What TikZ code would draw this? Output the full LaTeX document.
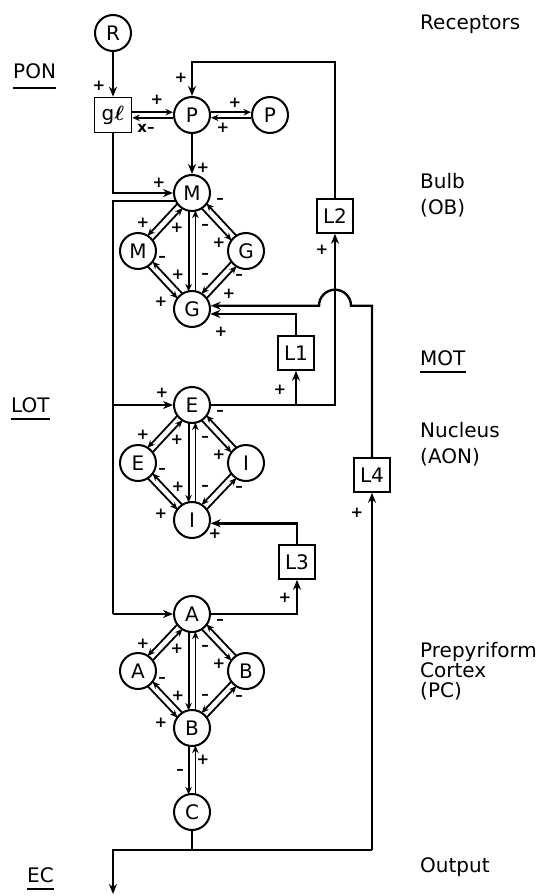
\documentclass[tikz,border=0pt]{standalone}
\usepackage{amsmath}
\usepackage{fontspec}
\setmainfont{DejaVu Sans}
\usetikzlibrary{calc,arrows.meta}
\newcommand\dlink[2]{\draw[dl,shorten <=17.6pt,shorten >=17.6pt] ($(#1)!3.4pt!-90:(#2)$) -- ($(#2)!3.4pt!90:(#1)$);}
\begin{document}
\begin{tikzpicture}[x=1pt,y=-1pt,
  every node/.style={inner sep=0pt},
  cell/.style={circle,draw,line width=2pt,minimum size=36pt,font=\fontsize{20}{20}\selectfont},
  box/.style={rectangle,draw,line width=1.6pt,minimum width=36pt,minimum height=34pt,font=\fontsize{20}{20}\selectfont},
  wire/.style={line width=2.4pt},
  arr/.style={wire,-{Stealth[length=10pt,width=8pt]}},
  dl/.style={line width=1.8pt,-{Stealth[length=7.5pt,width=6.5pt]}},
  sgn/.style={font=\fontsize{15}{15}\selectfont\bfseries},
  lbl/.style={anchor=base west,font=\fontsize{20}{24}\selectfont},
  ul/.style={line width=1.6pt}]
\useasboundingbox (0,0) rectangle (547,896);

% nodes
\node[cell] (R) at (113,33) {R};
\node[box,minimum width=37pt,minimum height=35pt] (gl) at (113,115) {g$\boldsymbol{\ell}$};
\node[cell] (P1) at (192,115) {P};
\node[cell] (P2) at (270,115) {P};
\node[cell] (Mt) at (192,193) {M};
\node[cell] (Ml) at (138,251) {M};
\node[cell] (Gr) at (246,251) {G};
\node[cell] (Gb) at (192,309) {G};
\node[cell] (Et) at (192,405) {E};
\node[cell] (El) at (138,463) {E};
\node[cell] (Ir) at (246,463) {I};
\node[cell] (Ib) at (192,520) {I};
\node[cell] (At) at (192,614) {A};
\node[cell] (Al) at (138,671) {A};
\node[cell] (Br) at (246,671) {B};
\node[cell] (Bb) at (192,728) {B};
\node[cell] (C) at (192,812) {C};
\node[box] (L2) at (335,216) {L2};
\node[box] (L1) at (296,353) {L1};
\node[box] (L4) at (372,475) {L4};
\node[box] (L3) at (297,562) {L3};

\coordinate (fbTop) at (335,62);
\coordinate (lotBot) at (113,614);
\coordinate (ECc) at (113,850);
\coordinate (L4c) at (372,850);
\coordinate (ECend) at (113,894);

% receptor / glomerulus / periglomerular
\draw[arr] (R) -- (gl);
\draw[dl] ([yshift=2.8pt]gl.east) -- ([yshift=2.8pt]P1.west);
\draw[dl] ([yshift=-2.8pt]P1.west) -- ([yshift=-2.8pt]gl.east);
\draw[dl] ([yshift=2.8pt]P1.east) -- ([yshift=2.8pt]P2.west);
\draw[dl] ([yshift=-2.8pt]P2.west) -- ([yshift=-2.8pt]P1.east);
\draw[arr] (L2.north) -- (fbTop) -| (P1.north);
\draw[arr] (P1) -- (Mt);
\draw[arr] (gl.south) |- (Mt.west);

% LOT
\draw[wire] (Mt.205) -| (lotBot);
\draw[arr] (lotBot) -- (At.west);
\draw[arr] (lotBot |- Et.west) -- (Et.west);

% MOT and feedback
\draw[arr] (Et.east) -| (L2.south);
\draw[arr] (L1.south |- Et.east) -- (L1.south);
\draw[arr] (L1.north) |- (Gb.-15);
\draw[arr] (L4.north) -- (L4.north |- Gb.10) -- ($(L2.south |- Gb.10)+(16,0)$) arc[start angle=0,end angle=180,radius=16pt] -- (Gb.10);
\draw[arr] (At.east) -| (L3.south);
\draw[arr] (L3.north) |- (Ib.-10);

% output
\draw[wire] (C.south) -- (C.south |- ECc);
\draw[arr] (L4c) -- (ECc) -- (ECend);
\draw[arr] (L4c) -- (L4.south);

% diamonds
\foreach \t/\l/\r/\b in {Mt/Ml/Gr/Gb, Et/El/Ir/Ib, At/Al/Br/Bb}{
  \dlink{\t}{\l}\dlink{\l}{\t}
  \dlink{\t}{\b}\dlink{\b}{\t}
  \dlink{\t}{\r}\dlink{\r}{\t}
  \dlink{\l}{\b}\dlink{\b}{\l}
  \dlink{\r}{\b}\dlink{\b}{\r}
  \node[sgn] at ($(\t)+(-49,30)$) {+};
  \node[sgn] at ($(\t)+(-15,35)$) {+};
  \node[sgn] at ($(\t)+(13,34)$) {–};
  \node[sgn] at ($(\t)+(28,8)$) {–};
  \node[sgn] at ($(\t)+(27,50)$) {+};
  \node[sgn] at ($(\t)+(-30,66)$) {–};
  \node[sgn] at ($(\t)+(-14,82)$) {+};
  \node[sgn] at ($(\t)+(13,83)$) {–};
  \node[sgn] at ($(\t)+(47,84)$) {–};
  \node[sgn] at ($(\t)+(-31,109)$) {+};
}
\dlink{Bb}{C}\dlink{C}{Bb}

% signs
\node[sgn] at (99,86) {+};
\node[sgn] at (157,100) {+};
\node[sgn] at (146,128) {x–};
\node[sgn] at (235,103) {+};
\node[sgn] at (223,128) {+};
\node[sgn] at (181,78) {+};
\node[sgn] at (203,168) {+};
\node[sgn] at (159,183) {+};
\node[sgn] at (322,250) {+};
\node[sgn] at (229,294) {+};
\node[sgn] at (221,332) {+};
\node[sgn] at (280,390) {+};
\node[sgn] at (162,393) {+};
\node[sgn] at (215,534) {+};
\node[sgn] at (285,598) {+};
\node[sgn] at (357,513) {+};
\node[sgn] at (203,760) {+};
\node[sgn] at (180,772) {–};

% labels right
\node[lbl] at (420,30) {Receptors};
\node[lbl] at (420,189) {Bulb};
\node[lbl] at (420,214) {(OB)};
\node[lbl] (MOT) at (420,365) {MOT};
\draw[ul] ($(MOT.base west)+(0,7)$) -- ($(MOT.base east)+(0,7)$);
\node[lbl] at (420,437) {Nucleus};
\node[lbl] at (420,463) {(AON)};
\node[lbl] at (420,657) {Prepyriform};
\node[lbl] at (420,677) {Cortex};
\node[lbl] at (420,697) {(PC)};
\node[lbl] at (420,872) {Output};
% labels left
\node[lbl] (PON) at (13,79) {PON};
\draw[ul] ($(PON.base west)+(0,9)$) -- ($(PON.base east)+(0,9)$);
\node[lbl] (LOT) at (11,412) {LOT};
\draw[ul] ($(LOT.base west)+(0,7)$) -- ($(LOT.base east)+(0,7)$);
\node[lbl] (EC) at (27,882) {EC};
\draw[ul] ($(EC.base west)+(0,7)$) -- ($(EC.base east)+(0,7)$);
\end{tikzpicture}
\end{document}
